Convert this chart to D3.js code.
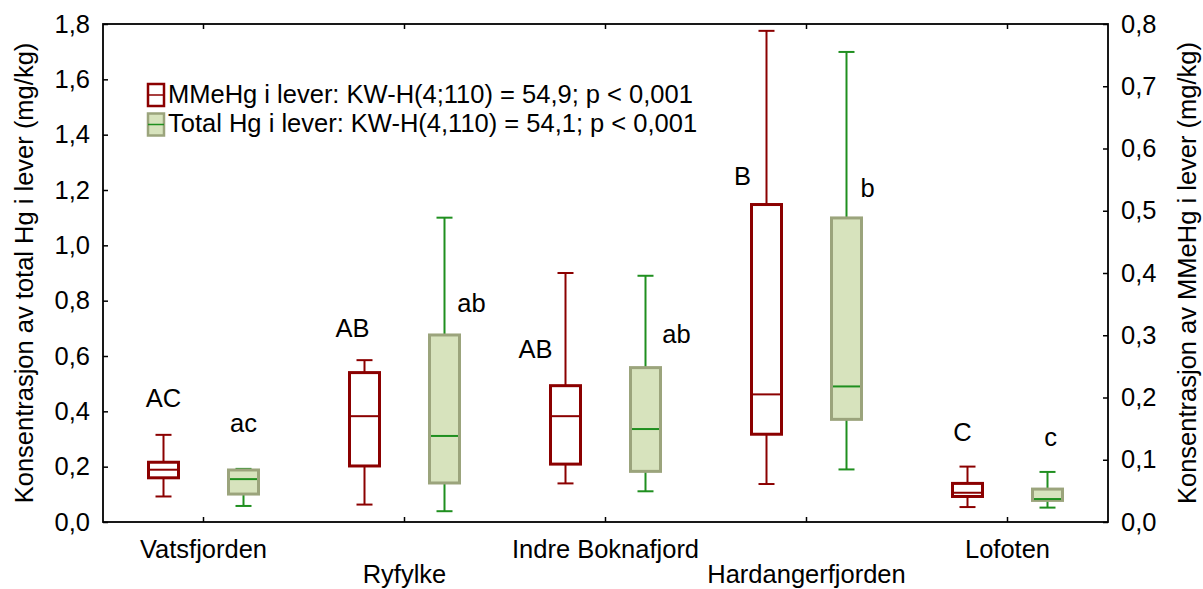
<!DOCTYPE html>
<html>
<head>
<meta charset="utf-8">
<script src="https://cdn.jsdelivr.net/npm/d3@7"></script>
<style>
  html, body { margin: 0; padding: 0; background: #fff; }
  svg { display: block; }
  text { font-family: "Liberation Sans", Arial, sans-serif; fill: #000; }
</style>
</head>
<body>
<svg id="chart" width="1203" height="589"></svg>
<script>
// ---------- data ----------
const categories = ["Vatsfjorden", "Ryfylke", "Indre Boknafjord", "Hardangerfjorden", "Lofoten"];

// MMeHg i lever (right axis, mg/kg): [min, Q1, median, Q3, max]
const mmehgMin = [0.041, 0.028, 0.062, 0.061, 0.024];
const mmehgQ1  = [0.071, 0.090, 0.093, 0.141, 0.041];
const mmehgMed = [0.084, 0.170, 0.170, 0.205, 0.047];
const mmehgQ3  = [0.096, 0.240, 0.219, 0.510, 0.062];
const mmehgMax = [0.140, 0.260, 0.400, 0.789, 0.089];

// Total Hg i lever (left axis, mg/kg): [min, Q1, median, Q3, max]
const totMin = [0.058, 0.039, 0.111, 0.190, 0.052];
const totQ1  = [0.101, 0.141, 0.183, 0.371, 0.078];
const totMed = [0.155, 0.311, 0.336, 0.490, 0.083];
const totQ3  = [0.188, 0.676, 0.558, 1.099, 0.119];
const totMax = [0.192, 1.100, 0.890, 1.699, 0.181];

// group letters (Kruskal-Wallis post hoc) and their value height (left-axis units)
const mmehgLetters = ["AC", "AB", "AB", "B", "C"];
const mmehgLetterY = [0.417, 0.670, 0.592, 1.218, 0.294];
const totLetters   = ["ac", "ab", "ab", "b", "c"];
const totLetterY   = [0.326, 0.760, 0.646, 1.176, 0.276];

const leftTicks  = [0, 0.2, 0.4, 0.6, 0.8, 1.0, 1.2, 1.4, 1.6, 1.8];
const rightTicks = [0, 0.1, 0.2, 0.3, 0.4, 0.5, 0.6, 0.7, 0.8];

const legendLabels = [
  "MMeHg i lever: KW-H(4;110) = 54,9; p < 0,001",
  "Total Hg i lever: KW-H(4,110) = 54,1; p < 0,001"
];
const leftTitle  = "Konsentrasjon av total Hg i lever (mg/kg)";
const rightTitle = "Konsentrasjon av MMeHg i lever (mg/kg)";

// ---------- layout (not data) ----------
const M = { left: 103, right: 1108, top: 24, bottom: 522 };
const boxOffset = 40, boxW = 30, capW = 16;
const mmehgLetterDx = [0, -12, -30, -24, -5];
const totLetterDx   = [0, 27, 31, 21, 3];
const FS = 25.5;
const red = "#8b0000";
const grnStroke = "#9ba47c", grnFill = "#d7e3bd", grnLine = "#1f8f1f";

const svg = d3.select("#chart");
const x = d3.scaleBand().domain(categories).range([M.left, M.right]);
const yL = d3.scaleLinear().domain([0, 1.8]).range([M.bottom, M.top]);
const yR = d3.scaleLinear().domain([0, 0.8]).range([M.bottom, M.top]);
const fmt1 = d => d3.format(".1f")(d).replace(".", ",");

// ---------- axes ----------
const axL = svg.append("g").attr("transform", `translate(${M.left},0)`)
  .call(d3.axisLeft(yL).tickValues(leftTicks).tickSize(-5).tickPadding(13).tickFormat(fmt1));
const axR = svg.append("g").attr("transform", `translate(${M.right},0)`)
  .call(d3.axisRight(yR).tickValues(rightTicks).tickSize(-5).tickPadding(13).tickFormat(fmt1));
const axB = svg.append("g").attr("transform", `translate(0,${M.bottom})`)
  .call(d3.axisBottom(x).tickSize(-5).tickFormat(""));
const axT = svg.append("g").attr("transform", `translate(0,${M.top})`)
  .call(d3.axisTop(x).tickSize(-5).tickFormat(""));
[axL, axR, axB, axT].forEach(a => {
  a.select(".domain").remove();
  a.selectAll(".tick line").attr("stroke", "#000").attr("stroke-width", 1.5);
  a.selectAll("text").attr("font-size", FS).attr("font-family", "Liberation Sans, Arial, sans-serif").attr("fill", "#000");
});

// frame
svg.append("rect").attr("x", M.left).attr("y", M.top)
  .attr("width", M.right - M.left).attr("height", M.bottom - M.top)
  .attr("fill", "none").attr("stroke", "#000").attr("stroke-width", 1.8);

// category labels (alternating rows)
svg.append("g").selectAll("text").data(categories).join("text")
  .attr("x", d => x(d) + x.bandwidth() / 2)
  .attr("y", (d, i) => i % 2 === 0 ? 558 : 583)
  .attr("text-anchor", "middle").attr("font-size", FS)
  .text(d => d);

// axis titles
svg.append("text").attr("transform", `translate(33,${(M.top + M.bottom) / 2}) rotate(-90)`)
  .attr("text-anchor", "middle").attr("font-size", FS).text(leftTitle);
svg.append("text").attr("transform", `translate(1196,${(M.top + M.bottom) / 2}) rotate(-90)`)
  .attr("text-anchor", "middle").attr("font-size", FS).text(rightTitle);

// ---------- boxes ----------
function drawBoxes(cls, y, mins, q1s, meds, q3s, maxs, dx, st) {
  const g = svg.append("g").attr("class", cls);
  const items = categories.map((c, i) => ({
    cx: x(c) + x.bandwidth() / 2 + dx,
    min: mins[i], q1: q1s[i], med: meds[i], q3: q3s[i], max: maxs[i]
  }));
  const grp = g.selectAll("g").data(items).join("g");
  grp.append("line").attr("x1", d => d.cx).attr("x2", d => d.cx)
    .attr("y1", d => y(d.q3)).attr("y2", d => y(d.max))
    .attr("stroke", st.whisker).attr("stroke-width", 2);
  grp.append("line").attr("x1", d => d.cx).attr("x2", d => d.cx)
    .attr("y1", d => y(d.q1)).attr("y2", d => y(d.min))
    .attr("stroke", st.whisker).attr("stroke-width", 2);
  grp.append("line").attr("x1", d => d.cx - capW / 2).attr("x2", d => d.cx + capW / 2)
    .attr("y1", d => y(d.max)).attr("y2", d => y(d.max))
    .attr("stroke", st.whisker).attr("stroke-width", 2);
  grp.append("line").attr("x1", d => d.cx - capW / 2).attr("x2", d => d.cx + capW / 2)
    .attr("y1", d => y(d.min)).attr("y2", d => y(d.min))
    .attr("stroke", st.whisker).attr("stroke-width", 2);
  grp.append("rect").attr("x", d => d.cx - boxW / 2).attr("width", boxW)
    .attr("y", d => y(d.q3)).attr("height", d => y(d.q1) - y(d.q3))
    .attr("fill", st.fill).attr("stroke", st.stroke).attr("stroke-width", 3);
  grp.append("line").attr("x1", d => d.cx - boxW / 2 + 1.5).attr("x2", d => d.cx + boxW / 2 - 1.5)
    .attr("y1", d => y(d.med)).attr("y2", d => y(d.med))
    .attr("stroke", st.median).attr("stroke-width", 2);
}
drawBoxes("mmehg", yR, mmehgMin, mmehgQ1, mmehgMed, mmehgQ3, mmehgMax, -boxOffset,
  { whisker: red, fill: "#fff", stroke: red, median: red });
drawBoxes("tot", yL, totMin, totQ1, totMed, totQ3, totMax, boxOffset,
  { whisker: grnLine, fill: grnFill, stroke: grnStroke, median: grnLine });

// ---------- letters ----------
svg.append("g").selectAll("text").data(categories).join("text")
  .attr("x", (c, i) => x(c) + x.bandwidth() / 2 - boxOffset + mmehgLetterDx[i])
  .attr("y", (c, i) => yL(mmehgLetterY[i]))
  .attr("text-anchor", "middle").attr("font-size", FS)
  .text((c, i) => mmehgLetters[i]);
svg.append("g").selectAll("text").data(categories).join("text")
  .attr("x", (c, i) => x(c) + x.bandwidth() / 2 + boxOffset + totLetterDx[i])
  .attr("y", (c, i) => yL(totLetterY[i]))
  .attr("text-anchor", "middle").attr("font-size", FS)
  .text((c, i) => totLetters[i]);

// ---------- legend ----------
const leg = svg.append("g");
const legStyles = [
  { fill: "#fff", stroke: red, mid: red },
  { fill: grnFill, stroke: grnStroke, mid: grnLine }
];
legendLabels.forEach((lab, i) => {
  const top = 84 + i * 29.5;
  leg.append("rect").attr("x", 148).attr("y", top).attr("width", 16).attr("height", 22)
    .attr("fill", legStyles[i].fill).attr("stroke", legStyles[i].stroke).attr("stroke-width", 2.5);
  leg.append("line").attr("x1", 148).attr("x2", 164).attr("y1", top + 11).attr("y2", top + 11)
    .attr("stroke", legStyles[i].mid).attr("stroke-width", 1.5);
  leg.append("text").attr("x", 168).attr("y", 103 + i * 29).attr("font-size", FS).text(lab);
});
</script>
</body>
</html>
